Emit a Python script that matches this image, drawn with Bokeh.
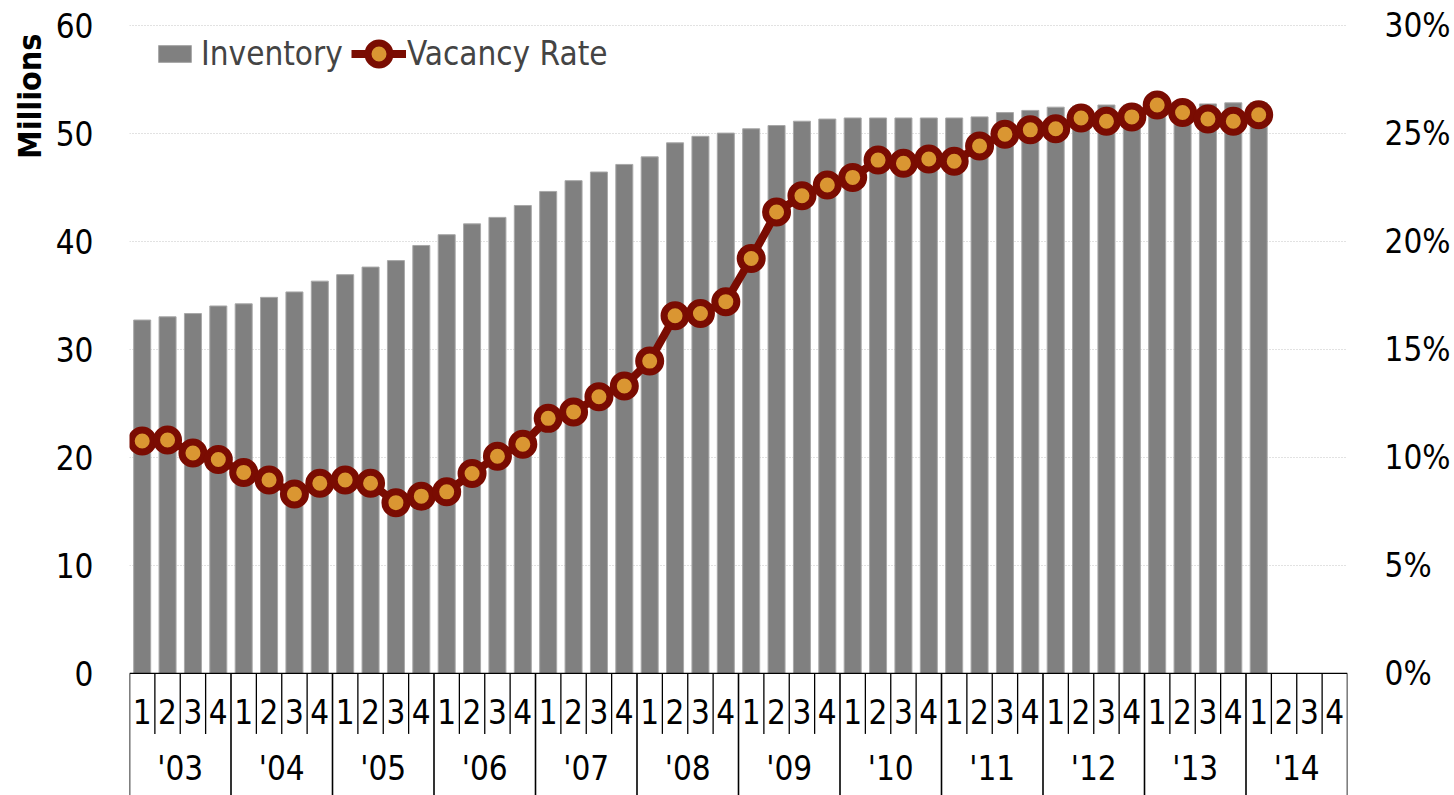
import numpy as np
from bokeh.plotting import figure
from bokeh.models import (Range1d, LinearAxis, FixedTicker, PrintfTickFormatter, Legend,
                          LegendItem, Title, ColumnDataSource, Grid)
from bokeh.core.properties import value
from bokeh.embed import file_html
from bokeh.resources import INLINE

# ---------------- data ----------------
years = ["'03", "'04", "'05", "'06", "'07", "'08", "'09", "'10", "'11", "'12", "'13", "'14"]
quarters = ["1", "2", "3", "4"]

# Inventory (millions), 2003Q1 .. 2014Q1
inventory = [32.7, 33.0, 33.3, 34.0,
             34.2, 34.8, 35.3, 36.3,
             36.9, 37.6, 38.2, 39.6,
             40.6, 41.6, 42.2, 43.3,
             44.6, 45.6, 46.4, 47.1,
             47.8, 49.1, 49.7, 50.0,
             50.4, 50.7, 51.1, 51.3,
             51.4, 51.4, 51.4, 51.4,
             51.4, 51.5, 51.9, 52.1,
             52.4, 52.5, 52.6, 52.6,
             52.7, 52.7, 52.7, 52.8,
             52.8]

# Vacancy rate (%), 2003Q1 .. 2014Q1
vacancy = [10.75, 10.8, 10.2, 9.9,
           9.3, 8.95, 8.3, 8.8,
           8.95, 8.8, 7.9, 8.2,
           8.4, 9.25, 10.05, 10.6,
           11.8, 12.1, 12.8, 13.3,
           14.45, 16.55, 16.65, 17.2,
           19.2, 21.35, 22.1, 22.6,
           22.95, 23.75, 23.6, 23.8,
           23.7, 24.4, 24.95, 25.15,
           25.2, 25.7, 25.55, 25.75,
           26.3, 25.95, 25.65, 25.55,
           25.85]

left_ticks = [0, 10, 20, 30, 40, 50, 60]
right_ticks = [0, 5, 10, 15, 20, 25, 30]

# ---------------- styling ----------------
FONT = "DejaVu Sans Condensed, Roboto, sans-serif"
BAR = "#808080"
DARK_RED = "#7a0c02"
ORANGE = "#da9632"
TXT = "33px"

n_slots = len(years) * len(quarters)
slot_q = [q for _ in years for q in quarters]
centers = np.arange(n_slots) + 0.5
year_centers = np.arange(len(years)) * len(quarters) + len(quarters) / 2

Y_MAX = 60.05
Y_MIN = -11.3
RATIO = left_ticks[-1] / right_ticks[-1]

p = figure(width=1454, height=795, output_backend="svg", toolbar_location=None,
           x_axis_type=None, y_axis_type=None,
           x_range=Range1d(0, n_slots), y_range=Range1d(Y_MIN, Y_MAX),
           min_border_left=129, min_border_right=107, min_border_top=24, min_border_bottom=0,
           outline_line_color=None, background_fill_color="white")
p.extra_y_ranges = {"pct": Range1d(Y_MIN / RATIO, Y_MAX / RATIO)}

grid = Grid(dimension=1, ticker=FixedTicker(ticks=left_ticks[1:]),
            grid_line_color="#c4c4c4", grid_line_dash="1 2", grid_line_width=1)
p.add_layout(grid)

yl = LinearAxis(ticker=FixedTicker(ticks=left_ticks), bounds=(left_ticks[0], left_ticks[-1]),
                axis_line_color=None, major_tick_line_color=None, minor_tick_line_color=None,
                major_tick_out=0, major_tick_in=0, major_label_standoff=36,
                major_label_text_font=FONT, major_label_text_font_size=TXT,
                major_label_text_color="black")
p.add_layout(yl, "left")

yr = LinearAxis(y_range_name="pct", ticker=FixedTicker(ticks=right_ticks),
                formatter=PrintfTickFormatter(format="%d%%"),
                bounds=(right_ticks[0], right_ticks[-1]),
                axis_line_color=None, major_tick_line_color=None, minor_tick_line_color=None,
                major_tick_out=0, major_tick_in=0, major_label_standoff=37,
                major_label_text_font=FONT, major_label_text_font_size=TXT,
                major_label_text_color="black")
p.add_layout(yr, "right")

p.add_layout(Title(text="Millions", align="right", offset=9, standoff=7,
                   text_font=FONT, text_font_size="32px", text_font_style="bold",
                   text_color="black"), "left")

inv_src = ColumnDataSource(dict(x=centers[:len(inventory)], top=inventory))
bars = p.vbar(x="x", top="top", bottom=0, width=0.67, source=inv_src,
              fill_color=BAR, line_color="#a8a8a8", line_width=1)

vac_src = ColumnDataSource(dict(x=centers[:len(vacancy)], y=vacancy))
vline = p.line(x="x", y="y", source=vac_src, y_range_name="pct",
               line_color=DARK_RED, line_width=8)
vpts = p.scatter(x="x", y="y", source=vac_src, y_range_name="pct", size=22,
                 fill_color=ORANGE, line_color=DARK_RED, line_width=7)

# ---------------- category table below the bars ----------------
Q_ROW_BOTTOM = -5.6
Q_LABEL_Y = -3.55
Y_LABEL_Y = -8.8
bounds_x = np.arange(n_slots + 1)
is_year = (bounds_x % len(quarters)) == 0
p.segment(x0=[0], y0=[0], x1=[n_slots], y1=[0], line_color="black", line_width=1.3)
p.segment(x0=bounds_x[~is_year], y0=0, x1=bounds_x[~is_year], y1=Q_ROW_BOTTOM,
          line_color="black", line_width=1.3)
p.segment(x0=bounds_x[is_year], y0=0, x1=bounds_x[is_year], y1=Y_MIN,
          line_color="black", line_width=1.6)
p.text(x=centers, y=Q_LABEL_Y, text=slot_q, text_align="center", text_baseline="middle",
       text_font=value(FONT), text_font_size=TXT, text_color="black")
p.text(x=year_centers, y=Y_LABEL_Y, text=years, text_align="center", text_baseline="middle",
       text_font=value(FONT), text_font_size=TXT, text_color="black")

# ---------------- legends ----------------
leg_common = dict(padding=0, margin=0, border_line_color=None, background_fill_alpha=0,
                  label_text_font=FONT, label_text_font_size=TXT, label_height=55,
                  orientation="horizontal")
leg1 = Legend(items=[LegendItem(label="Inventory", renderers=[bars])], location=(25, 714),
              glyph_width=41, glyph_height=21, label_standoff=6, **leg_common)
leg2 = Legend(items=[LegendItem(label="Vacancy Rate", renderers=[vline, vpts])],
              location=(222, 714), glyph_width=55, glyph_height=55, label_standoff=1,
              **leg_common)
p.add_layout(leg1)
p.add_layout(leg2)

open("out.html", "w").write(file_html(p, INLINE))
